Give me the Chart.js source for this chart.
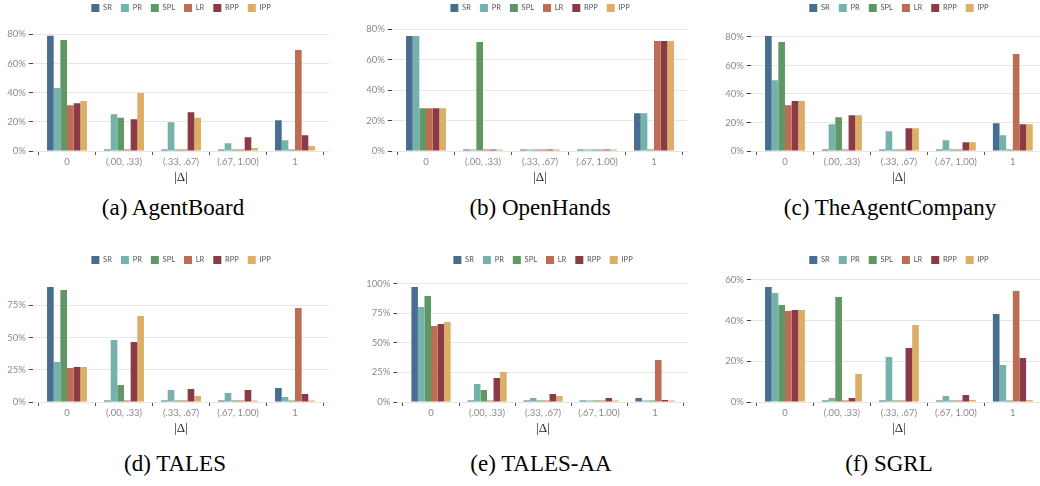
<!DOCTYPE html>
<html><head><meta charset="utf-8">
<script src="https://cdn.jsdelivr.net/npm/chart.js@4.4.0/dist/chart.umd.min.js"></script>
<style>
html,body{margin:0;padding:0;background:#fff;width:1040px;height:486px;overflow:hidden;position:relative}
.panel{position:absolute}
.panel canvas{display:block}
.cap{position:absolute;font-family:"Liberation Serif","Times New Roman",serif;font-size:23px;color:#000;transform:translate(-50%,-50%);white-space:nowrap;line-height:1.15}
</style></head><body>
<script>
// ---- data ----
const categories = ['0', '(.00, .33)', '(.33, .67)', '(.67, 1.00)', '1'];
const seriesNames = ['SR', 'PR', 'SPL', 'LR', 'RPP', 'IPP'];
const seriesColors = ['#476e8e', '#74b2ab', '#5f9864', '#bd6d54', '#8b3b45', '#ddae66'];

// values in percent, one row per series (SR, PR, SPL, LR, RPP, IPP), one column per |Δ| bin
const agentBoardValues = [
  [79.0, 0, 0, 0, 21.1],
  [43.1, 25.2, 19.7, 5.3, 7.3],
  [76.1, 22.7, 1.1, 0, 0],
  [31.4, 0, 0, 0, 69.2],
  [32.8, 21.8, 26.6, 9.4, 10.8],
  [34.2, 39.7, 22.7, 2.1, 3.4]
];
const openHandsValues = [
  [75.4, 0, 0, 0, 24.8],
  [75.4, 0, 0, 0, 24.8],
  [28.1, 71.5, 0, 0, 0],
  [28.1, 0, 0, 0, 72.1],
  [28.1, 0, 0, 0, 72.1],
  [28.1, 0, 0, 0, 72.1]
];
const theAgentCompanyValues = [
  [80.7, 0, 0, 0, 19.5],
  [49.7, 18.8, 13.8, 7.5, 11.0],
  [76.5, 23.7, 0, 0, 0],
  [32.1, 0, 0, 0, 68.0],
  [35.0, 25.1, 16.0, 6.1, 18.8],
  [35.0, 25.1, 16.0, 6.1, 18.8]
];
const talesValues = [
  [89.2, 0, 0, 0, 10.9],
  [31.0, 48.1, 9.3, 7.0, 3.9],
  [86.9, 13.2, 0, 0, 0],
  [26.4, 0, 0, 0, 72.9],
  [27.2, 46.5, 10.1, 9.3, 6.2],
  [27.2, 66.7, 4.7, 0.8, 0]
];
const talesAAValues = [
  [97.2, 0, 0, 0, 3.4],
  [80.3, 15.2, 3.4, 0, 0],
  [89.6, 10.1, 0, 0, 0],
  [64.2, 0, 0, 0, 35.5],
  [65.9, 20.3, 6.8, 3.4, 1.7],
  [67.6, 25.4, 5.1, 0, 0.8]
];
const sgrlValues = [
  [56.6, 0, 0, 0, 43.3],
  [53.6, 2.0, 22.1, 3.0, 18.2],
  [47.7, 51.6, 0, 0, 0],
  [44.8, 0, 0, 0, 54.6],
  [45.2, 2.0, 26.6, 3.4, 21.6],
  [45.2, 13.8, 37.9, 1.0, 1.0]
];
const yTickSteps = [20, 20, 20, 25, 25, 20];
const yTickTops = [80, 80, 80, 75, 100, 60];
const captions = ['(a) AgentBoard', '(b) OpenHands', '(c) TheAgentCompany', '(d) TALES', '(e) TALES-AA', '(f) SGRL'];

// ---- layout (positions / sizes only) ----
const panels = [
  {values: agentBoardValues,      left: 0,   top: -5,  w: 345, h: 196, yW: 32.8, rPad: 15.8, max: 88.4,  capX: 173, capY: 208},
  {values: openHandsValues,       left: 345, top: -5,  w: 350, h: 196, yW: 46.8, rPad: 6.8,  max: 84.6,  capX: 540, capY: 208},
  {values: theAgentCompanyValues, left: 695, top: -5,  w: 360, h: 196, yW: 55.8, rPad: 8,    max: 90.5,  capX: 890, capY: 208},
  {values: talesValues,           left: 0,   top: 247, w: 345, h: 195, yW: 32.8, rPad: 15.8, max: 99.3,  capX: 175, capY: 464},
  {values: talesAAValues,         left: 345, top: 247, w: 350, h: 195, yW: 52.4, rPad: 6.4,  max: 108.2, capX: 541, capY: 464},
  {values: sgrlValues,            left: 695, top: 247, w: 360, h: 195, yW: 55.8, rPad: 8,    max: 62.95, capX: 889, capY: 464}
];

const tickFont = {family: 'Lato', size: 9.5};
const tickColor = '#8a8a8a';

panels.forEach((p, pi) => {
  const div = document.createElement('div');
  div.className = 'panel';
  div.style.left = p.left + 'px';
  div.style.top = p.top + 'px';
  div.style.width = p.w + 'px';
  div.style.height = p.h + 'px';
  const cv = document.createElement('canvas');
  cv.width = p.w; cv.height = p.h;
  cv.style.width = p.w + 'px'; cv.style.height = p.h + 'px';
  div.appendChild(cv);
  document.body.appendChild(div);

  const cap = document.createElement('div');
  cap.className = 'cap';
  cap.textContent = captions[pi];
  cap.style.left = p.capX + 'px';
  cap.style.top = p.capY + 'px';
  document.body.appendChild(cap);

  const step = yTickSteps[pi];
  const tickTop = yTickTops[pi];

  new Chart(cv, {
    type: 'bar',
    data: {
      datasets: seriesNames.map((name, si) => ({
        label: name,
        backgroundColor: seriesColors[si],
        borderWidth: 0,
        data: p.values[si].map((v, i) => ({x: i, y: v})),
        categoryPercentage: 0.7,
        barPercentage: 1.0,
        minBarLength: 1.5
      }))
    },
    options: {
      responsive: false,
      devicePixelRatio: 1,
      animation: false,
      layout: {padding: {left: 0, right: p.rPad, top: 0, bottom: 0}},
      plugins: {
        tooltip: {enabled: false},
        legend: {
          display: true, position: 'top', align: 'center', fullSize: false,
          labels: {boxWidth: 8, boxHeight: 8, padding: 9, color: '#555', font: {family: 'Lato', size: 7.5}}
        }
      },
      scales: {
        x: {
          type: 'linear', min: -0.6, max: 4.6, offset: false,
          afterBuildTicks: s => { s.ticks = categories.map((c, i) => ({value: i})); },
          ticks: {autoSkip: false, maxRotation: 0, padding: 1, color: tickColor, font: tickFont,
                  callback: v => categories[v]},
          grid: {display: true, drawOnChartArea: false, drawTicks: true, tickLength: 4, tickColor: '#555'},
          border: {display: false},
          title: {display: true, text: '|Δ|', color: '#222', font: {family: 'Liberation Serif', size: 13}, padding: {top: 0, bottom: 6}},
          afterFit: s => { s.height = 40; }
        },
        y: {
          min: 0, max: p.max,
          afterBuildTicks: s => {
            s.ticks = s.ticks.filter(t => t.value <= tickTop + 1e-6 && Math.abs(t.value / step - Math.round(t.value / step)) < 1e-6);
          },
          ticks: {stepSize: step, includeBounds: false, padding: 3, color: tickColor, font: tickFont, callback: v => v + '%'},
          grid: {color: '#e6e6e6', lineWidth: 1, tickLength: 4, tickColor: '#444'},
          border: {display: false},
          afterFit: s => { s.width = p.yW; }
        }
      }
    }
  });
});
</script>
</body></html>
